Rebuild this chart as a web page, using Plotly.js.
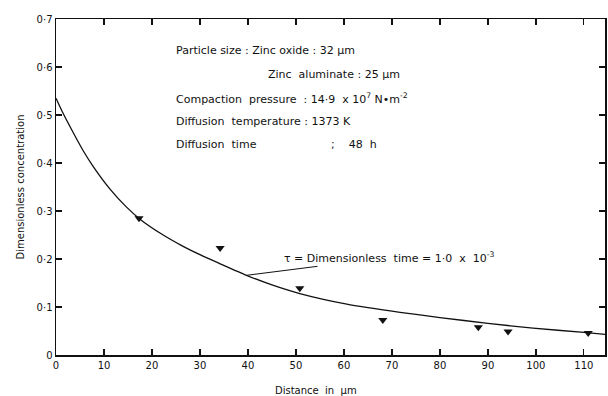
<!DOCTYPE html>
<html>
<head>
<meta charset="utf-8">
<script src="https://cdn.plot.ly/plotly-3.0.1.min.js"></script>
<style>html,body{margin:0;padding:0;background:#fff}#chart{width:608px;height:396px}</style>
</head>
<body>
<div id="chart"></div>
<script>
// Fitted curve (tau = 1.0e-3)
var curveX = [0, 1.5, 3.6, 5.7, 7.8, 11.3, 14.7, 17.5, 22, 26, 30, 34, 39.7, 45, 50.8, 60.6, 71.7, 80, 90, 99.4, 110, 114.5];
var curveY = [0.535, 0.503, 0.463, 0.425, 0.392, 0.345, 0.308, 0.283, 0.252, 0.229, 0.209, 0.191, 0.166, 0.146, 0.128, 0.106, 0.089, 0.078, 0.066, 0.056, 0.047, 0.043];
// Experimental points
var pointX = [17.3, 34.2, 50.8, 68.1, 88.0, 94.2, 110.9];
var pointY = [0.285, 0.223, 0.139, 0.073, 0.058, 0.049, 0.046];
// Tick labels
var yTickVals = [0, 0.1, 0.2, 0.3, 0.4, 0.5, 0.6, 0.7];
var yTickText = ["0", "0·1", "0·2", "0·3", "0·4", "0·5", "0·6", "0·7"];
var xTickVals = [0, 10, 20, 30, 40, 50, 60, 70, 80, 90, 100, 110];
var xTickText = ["0", "10", "20", "30", "40", "50", "60", "70", "80", "90", "100", "110"];

var F = "DejaVu Sans, Arial, sans-serif";
var font = {family: F, size: 10, color: "#111"};
var font11 = {family: F, size: 11, color: "#111"};

var traces = [
  {x: curveX, y: curveY, mode: "lines", line: {color: "#111", width: 1.3, shape: "spline", smoothing: 0.6}, hoverinfo: "skip"},
  {x: pointX, y: pointY, mode: "markers", marker: {symbol: "triangle-down", size: 8, color: "#111"}}
];

var L = 56, T = 19, W = 549, H = 336;
function px(x) { return (x - L) / W; }
function py(y) { return (T + H - y) / H; }
function note(text, x, y, anchor, f) {
  return {text: text, xref: "paper", yref: "paper", x: px(x), y: py(y), xanchor: anchor || "left", yanchor: "middle", showarrow: false, font: f || font11};
}

var layout = {
  width: 608, height: 396,
  margin: {l: L, r: 608 - L - W, t: T, b: 396 - T - H},
  paper_bgcolor: "#fff", plot_bgcolor: "#fff",
  showlegend: false,
  font: font,
  xaxis: {range: [0, 114.4], tickvals: xTickVals, ticktext: xTickText, ticks: "inside", ticklen: 6, tickwidth: 1.2, tickcolor: "#111",
          showline: true, linecolor: "#111", linewidth: 1.5, mirror: "ticks", showgrid: false, zeroline: false, tickfont: font},
  yaxis: {range: [0, 0.7], tickvals: yTickVals, ticktext: yTickText, ticks: "inside", ticklen: 6, tickwidth: 1.2, tickcolor: "#111",
          showline: true, linecolor: "#111", linewidth: 1.5, mirror: "ticks", showgrid: false, zeroline: false, tickfont: font,
          title: {text: "Dimensionless concentration", font: font, standoff: 10}},
  annotations: [
    note("Particle size : Zinc oxide : 32 μm", 174, 50),
    note("Zinc  aluminate : 25 μm", 266, 74),
    note("Compaction  pressure  : 14·9  x 10<sup>7</sup> N•m<sup>-2</sup>", 174, 98),
    note("Diffusion  temperature : 1373 K", 174, 121),
    note("Diffusion  time", 174, 144),
    note(";    48  h", 329, 144),
    note("Distance  in  μm", 316, 390, "center", font),
    {text: "τ = Dimensionless  time = 1·0  x  10<sup>-3</sup>", xref: "x", yref: "y", x: 39.7, y: 0.166,
     ax: 142, ay: -18, showarrow: true, arrowhead: 0, arrowwidth: 1, arrowcolor: "#111", font: font11}
  ]
};

Plotly.newPlot("chart", traces, layout, {displayModeBar: false, staticPlot: true});
</script>
</body>
</html>
